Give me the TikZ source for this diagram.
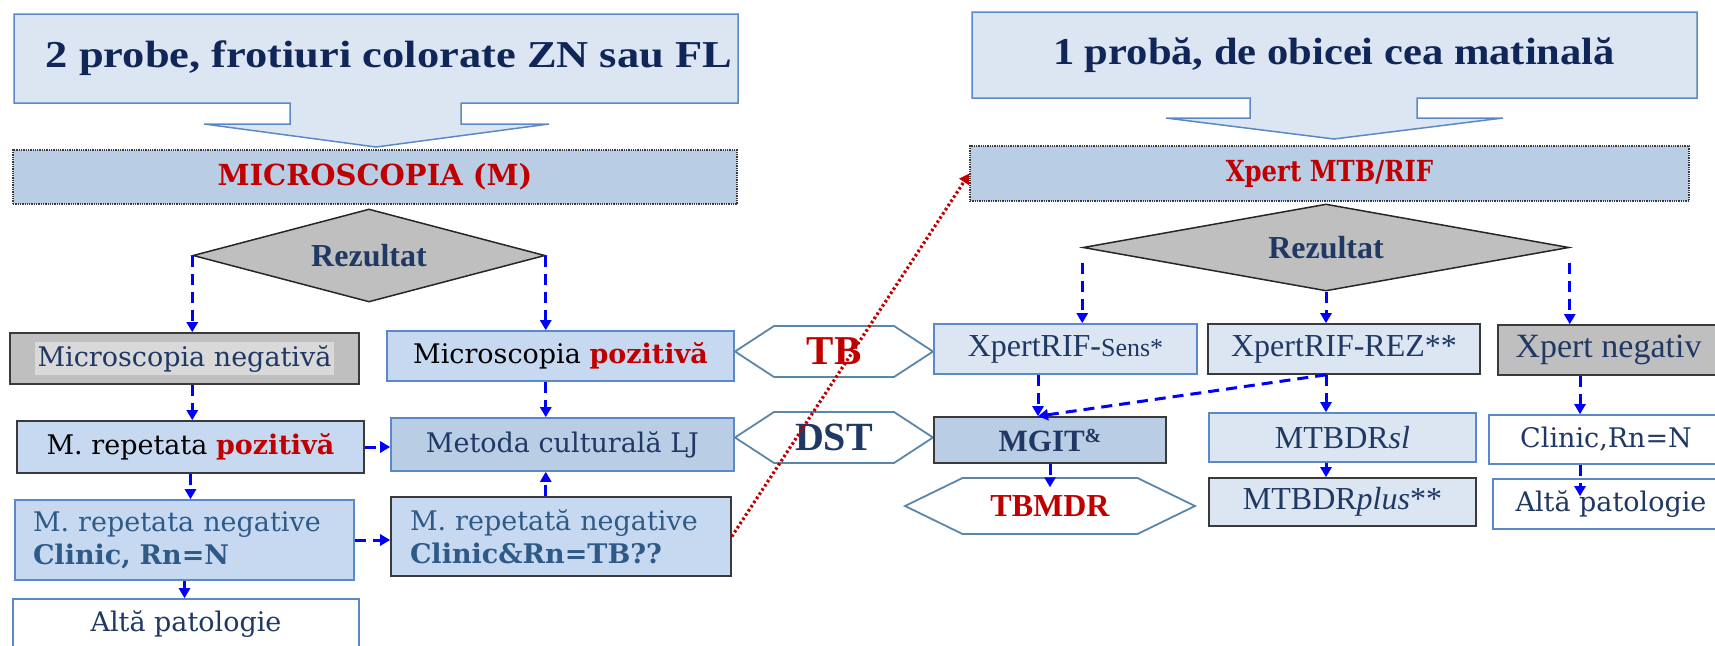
\documentclass[tikz,border=0pt]{standalone}
\usepackage{fontspec}
\setmainfont{Liberation Serif}
\newfontfamily\cam{DejaVu Serif}
\usetikzlibrary{arrows.meta,shapes.geometric}
\definecolor{navy}{HTML}{1F3864}
\definecolor{tnavy}{HTML}{102658}
\definecolor{steel}{HTML}{2F5A87}
\definecolor{tred}{HTML}{C00000}
\definecolor{fillA}{HTML}{DCE6F2}
\definecolor{fillB}{HTML}{B9CDE5}
\definecolor{fillC}{HTML}{C6D9F1}
\definecolor{gfill}{HTML}{BFBFBF}
\definecolor{hl}{HTML}{D9D9D9}
\definecolor{bblue}{HTML}{5B88C6}
\definecolor{bdark}{HTML}{3A3A3A}
\definecolor{hexc}{HTML}{5A86AA}
\definecolor{arrb}{HTML}{0000FF}
\begin{document}
\begin{tikzpicture}[x=1pt,y=-1pt,
  bx/.style={draw, rectangle, inner sep=0pt, line width=1.6pt},
  bluebx/.style={bx, draw=bblue},
  darkbx/.style={bx, draw=bdark},
  hdr/.style={rectangle, inner sep=0pt, fill=fillB, draw=bdark, densely dotted, line width=1.3pt},
  arr/.style={draw=arrb, line width=3pt, dash pattern=on 11pt off 7pt, -{Triangle[width=11pt,length=10pt]}},
  reddot/.style={draw=tred, line width=3.2pt, dash pattern=on 2.5pt off 2.5pt, -{Triangle[width=11pt,length=10pt]}},
  hexs/.style={draw=hexc, fill=white, line width=1.8pt, line join=miter},
  call/.style={draw=bblue, fill=fillA, line width=1.5pt, line join=miter},
  dia/.style={diamond, draw=black!85, fill=gfill, line width=1.5pt, inner sep=0pt},
  camf/.style={font=\cam\fontsize{27}{33}\selectfont},
  timf/.style={font=\fontsize{32}{38}\selectfont},
  titf/.style={font=\bfseries\fontsize{38}{40}\selectfont, text=tnavy},
]
\useasboundingbox (0,0) rectangle (1715,645);
\clip (0,0) rectangle (1715,645);

% ---------- title callouts ----------
\draw[call] (14,14) -- (738,14) -- (738,103) -- (461,103) -- (461,124) -- (549,124)
  -- (376,147) -- (204,124) -- (290,124) -- (290,103) -- (14,103) -- cycle;
\node[titf] (t1) at (389,58) {\scalebox{1.17}[1]{2 probe, frotiuri colorate ZN sau FL}};
\draw[call] (972,12) -- (1697,12) -- (1697,98) -- (1417,98) -- (1417,118) -- (1503,118)
  -- (1334,139) -- (1166,118) -- (1250,118) -- (1250,98) -- (972,98) -- cycle;
\node[titf] (t2) at (1334,55) {\scalebox{1.12}[1]{1 probă, de obicei cea matinală}};

% ---------- headers ----------
\node[hdr, minimum width=724pt, minimum height=54pt, font=\cam\bfseries\fontsize{29}{34}\selectfont, text=tred] (micro) at (375,177) {MICROSCOPIA (M)};
\node[hdr, minimum width=719pt, minimum height=55pt, font=\cam\bfseries\fontsize{29}{34}\selectfont, text=tred] (xpert) at (1329.5,173.5) {\scalebox{0.84}[1]{Xpert MTB/RIF}};

% ---------- diamonds ----------
\node[dia, aspect=3.8, minimum width=352pt, minimum height=93pt, font=\bfseries\fontsize{32}{36}\selectfont, text=navy] (dL) at (369,255.5) {Rezultat};
\node[dia, aspect=5.6, minimum width=486pt, minimum height=87pt, font=\bfseries\fontsize{32}{36}\selectfont, text=navy] (dR) at (1326,247.5) {Rezultat};

% ---------- left column ----------
\node[darkbx, fill=gfill, minimum width=349pt, minimum height=51pt, camf, text=navy] (neg) at (184.5,358.5)
  {\colorbox{hl}{\rule[-6pt]{0pt}{27pt}Microscopia negativă}};
\node[darkbx, fill=fillC, minimum width=347pt, minimum height=52pt, camf, text=black] (mpoz) at (190.5,447)
  {M. repetata \textcolor{tred}{\bfseries pozitivă}};
\node[bluebx, fill=fillC, minimum height=80pt, inner xsep=18pt, text width=303pt, align=left, camf, text=steel] (mneg) at (184.5,540)
  {M. repetata negative\\\textbf{Clinic, Rn=N}};
\node[bluebx, fill=white, minimum width=346pt, minimum height=50pt, camf, text=navy] (alta) at (186,624) {Altă patologie};

\node[bluebx, fill=fillC, minimum width=347pt, minimum height=50pt, camf, text=black] (pozit) at (560.5,356)
  {Microscopia \textcolor{tred}{\bfseries pozitivă}};
\node[bluebx, fill=fillB, minimum width=343pt, minimum height=53pt, camf, text=navy] (metoda) at (562.5,444.5)
  {Metoda culturală LJ};
\node[darkbx, fill=fillC, minimum height=79pt, inner xsep=19pt, text width=302pt, align=left, camf, text=steel] (mneg2) at (561,536.5)
  {M. repetată negative\\\textbf{Clinic\&Rn=TB??}};

% ---------- hexagons ----------
\coordinate (tbc) at (834,351.5);
\draw[hexs] (tbc) ++(-99,0) -- ++(39,-25.5) -- ++(120,0) -- ++(39,25.5) -- ++(-39,25.5) -- ++(-120,0) -- cycle;
\node[font=\bfseries\fontsize{41}{44}\selectfont, text=tred, inner sep=0pt] (tb) at (tbc) {TB};
\coordinate (dstc) at (834,437.5);
\draw[hexs] (dstc) ++(-99,0) -- ++(39,-25.5) -- ++(120,0) -- ++(39,25.5) -- ++(-39,25.5) -- ++(-120,0) -- cycle;
\node[font=\bfseries\fontsize{40}{44}\selectfont, text=navy, inner sep=0pt] (dst) at (dstc) {DST};
\coordinate (mdrc) at (1050,506);
\draw[hexs] (mdrc) ++(-145,0) -- ++(57.5,-28) -- ++(175,0) -- ++(57.5,28) -- ++(-57.5,28) -- ++(-175,0) -- cycle;
\node[font=\bfseries\fontsize{32}{36}\selectfont, text=tred, inner xsep=0pt, inner ysep=8pt] (tbmdr) at (mdrc) {TBMDR};

% ---------- right side ----------
\node[bluebx, fill=fillA, minimum width=263pt, minimum height=50pt, timf, text=navy] (sens) at (1065.5,349)
  {XpertRIF-{\fontsize{26}{30}\selectfont Sens*}};
\node[darkbx, fill=fillA, minimum width=272pt, minimum height=50pt, timf, text=navy] (rez) at (1344,349)
  {XpertRIF-REZ**};
\node[darkbx, fill=gfill, minimum width=221pt, minimum height=50pt, font=\fontsize{34}{38}\selectfont, text=navy] (xneg) at (1608.5,350)
  {Xpert negativ};
\node[darkbx, fill=fillB, minimum width=232pt, minimum height=46pt, font=\bfseries\fontsize{31}{36}\selectfont, text=navy] (mgit) at (1050,440)
  {MGIT{\fontsize{20}{22}\selectfont\raisebox{9pt}{\&}}};
\node[bluebx, fill=fillA, minimum width=267pt, minimum height=49pt, timf, text=navy] (sl) at (1342.5,437.5)
  {MTBDR\textit{sl}};
\node[darkbx, fill=fillA, minimum width=267pt, minimum height=48pt, timf, text=navy] (plus) at (1342.5,502)
  {MTBDR\textit{plus}**};
\node[bluebx, fill=white, minimum width=234pt, minimum height=49pt, camf, text=navy] (clinic) at (1606,439.5)
  {Clinic,Rn=N};
\node[bluebx, fill=white, minimum width=236pt, minimum height=50pt, camf, text=navy] (alta2) at (1611,504)
  {Altă patologie};

% ---------- connectors, left ----------
\draw[arr] (dL.west) -- (dL.west |- neg.north);
\draw[arr] (neg.south -| dL.west) -- (mpoz.north -| dL.west);
\draw[arr] (mpoz.south) -- (mpoz.south |- mneg.north);
\draw[arr] (mneg.south) -- (mneg.south |- alta.north);
\draw[arr] (dL.east) -- (dL.east |- pozit.north);
\draw[arr] (pozit.south -| dL.east) -- (metoda.north -| dL.east);
\draw[arr] (mneg2.north -| dL.east) -- (metoda.south -| dL.east);
\draw[arr] (mpoz.east) -- (mpoz.east -| metoda.west);
\draw[arr] (mneg.east) -- (mneg.east -| mneg2.west);

% ---------- connectors, right ----------
\coordinate (mgA) at ([xshift=-12pt]mgit.north);
\coordinate (cA) at ([xshift=-26pt]clinic.north);
\coordinate (aA) at ([xshift=-31pt,yshift=-18pt]alta2.north);
\draw[arr] ([yshift=-15pt]dR.west) -- (dR.west |- sens.north);
\draw[arr] (dR.south) -- (dR.south |- rez.north);
\draw[arr] ([yshift=-15pt]dR.east) -- (dR.east |- xneg.north);
\draw[arr] (sens.south -| mgA) -- (mgA);
\draw[arr] (rez.south -| dR.south) -- (mgA);
\draw[arr] (rez.south -| dR.south) -- (sl.north -| dR.south);
\draw[arr] (sl.south -| dR.south) -- (plus.north -| dR.south);
\draw[arr] (mgit.south) -- (tbmdr.north);
\draw[arr] (xneg.south -| cA) -- (cA);
\draw[arr] (clinic.south -| aA) -- (aA);

% ---------- red dotted link ----------
\draw[reddot] (mneg2.east) -- (xpert.west);
\end{tikzpicture}
\end{document}
